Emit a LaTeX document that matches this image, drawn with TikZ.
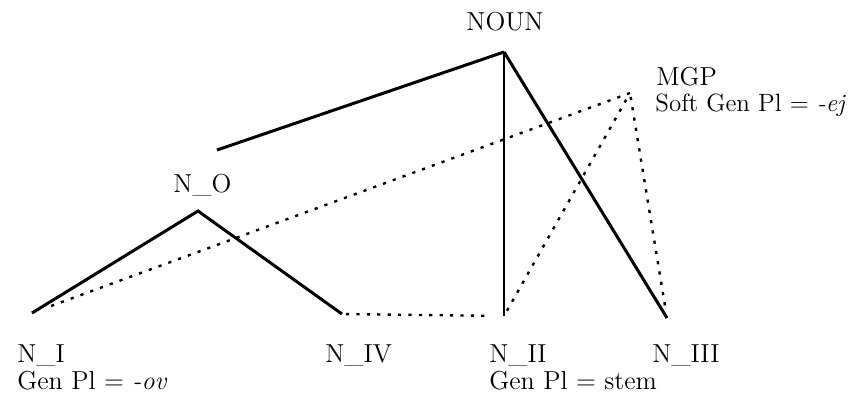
\documentclass[tikz,border=0pt]{standalone}
\begin{document}
\begin{tikzpicture}[x=0.5pt,y=-0.5pt,
  solid line/.style={line width=1.5pt},
  thin solid/.style={line width=1pt},
  dot line/.style={line width=1.2pt, dash pattern=on 1.6pt off 3.6pt},
  lbl/.style={font=\fontsize{13}{15}\selectfont, inner sep=0pt, anchor=base west}]
\useasboundingbox (0,0) rectangle (850,396);
% vertices
\coordinate (noun) at (504,52);
\coordinate (nfree) at (217,150);
\coordinate (mgp) at (630,93);
\coordinate (no) at (198,211);
\coordinate (ni) at (32,313);
\coordinate (niv) at (342,314);
\coordinate (nii) at (504,316);
\coordinate (niii) at (667,318);
% labels
\node[lbl, anchor=base] (tnoun) at (505,31) {NOUN};
\node[lbl] (tmgp) at (656,85) {MGP};
\node[lbl, font=\fontsize{12.5}{15}\selectfont] (tsoft) at (655,111) {Soft Gen Pl = \textit{-ej}};
\node[lbl] (tno) at (173,192) {N\_O};
\node[lbl] (tni) at (17,362) {N\_I};
\node[lbl] (tnig) at (17,389) {Gen Pl = \textit{-ov}};
\node[lbl] (tniv) at (325,362) {N\_IV};
\node[lbl] (tnii) at (489,362) {N\_II};
\node[lbl] (tniig) at (489,389) {Gen Pl = stem};
\node[lbl] (tniii) at (652,362) {N\_III};
% solid lines
\draw[solid line] (noun) -- (nfree);
\draw[solid line] (ni) -- (no) -- (niv);
\draw[solid line] (noun) -- (niii);
\draw[thin solid] (noun) -- (nii);
% dotted lines
\draw[dot line, shorten >=8pt] (mgp) -- (ni);
\draw[dot line, shorten <=2pt, shorten >=8pt] (niv) -- (nii);
\draw[dot line, shorten <=3pt, shorten >=1pt] (nii) -- (mgp);
\draw[dot line, shorten <=2pt, shorten >=4pt] (mgp) -- (niii);
\end{tikzpicture}
\end{document}
